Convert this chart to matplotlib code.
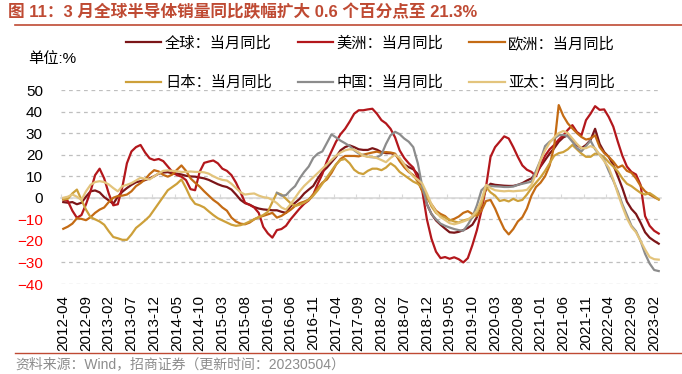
import numpy as np
import pandas as pd
import matplotlib
matplotlib.use("Agg")
import matplotlib.pyplot as plt
from matplotlib.lines import Line2D

plt.rcParams['font.family'] = ['Liberation Sans', 'Noto Sans CJK SC', 'DejaVu Sans']

# 月份：2012-04 至 2023-03
months = pd.period_range('2012-04', '2023-03', freq='M').strftime('%Y-%m').tolist()

# 当月同比 (%)
glob = [-2.0, -2.3, -2.0, -3.0, -2.3, 0.5, 3.0, 3.4, 2.5, 0.3, -1.2, -2.8,
        0.5, 2.8, 4.5, 6.0, 7.2, 7.7, 8.2, 9.0, 10.0, 11.2, 11.7, 11.9,
        11.3, 11.2, 10.8, 10.2, 9.9, 9.8, 9.4, 9.0, 8.3, 7.3, 6.3, 5.5,
        5.0, 3.8, 1.5, -1.0, -2.5, -3.2, -4.3, -5.0, -5.4, -5.6, -5.8, -5.8,
        -6.5, -7.0, -4.0, -2.3, -0.5, 2.0, 3.8, 5.5, 9.0, 12.0, 14.0, 16.5,
        19.0, 22.0, 23.5, 24.3, 23.5, 22.5, 22.2, 22.2, 23.0, 22.3, 21.2, 20.7,
        20.7, 20.2, 18.0, 15.5, 14.2, 13.2, 11.0, 5.0, -3.0, -7.5, -10.5, -12.5,
        -14.3, -16.0, -16.2, -15.8, -15.0, -14.0, -12.5, -9.0, -2.0, 4.0, 6.5, 6.0,
        5.8, 5.6, 5.5, 5.5, 6.0, 6.8, 8.0, 9.0, 11.5, 14.5, 17.5, 20.5,
        23.0, 26.0, 28.0, 29.0, 27.0, 24.5, 23.0, 24.5, 26.8, 32.0, 25.0, 21.2,
        19.0, 15.3, 10.0, 4.5, -1.8, -5.2, -7.5, -11.5, -16.0, -18.5, -20.0, -21.3]

us = [-0.8, -1.5, -6.0, -9.3, -8.0, -3.0, 3.0, 10.5, 13.5, 9.0, 2.0, -3.5,
      -3.0, 5.0, 16.0, 21.5, 23.5, 24.5, 21.0, 18.3, 17.5, 18.0, 17.0, 14.5,
      12.0, 10.5, 9.8, 8.2, 4.0, 3.5, 12.0, 16.2, 16.8, 17.3, 16.0, 13.5,
      12.5, 10.5, 7.0, 2.5, -2.3, -3.3, -4.5, -7.0, -13.5, -16.5, -18.5, -15.0,
      -14.5, -13.0, -10.0, -7.5, -5.0, -2.8, -1.2, 1.5, 6.5, 11.0, 17.0, 21.5,
      26.0, 29.5, 32.0, 35.3, 39.0, 40.6, 40.6, 41.0, 41.3, 39.0, 36.0, 34.5,
      32.0, 28.0, 22.0, 18.5, 16.0, 14.0, 9.0, 3.0, -10.0, -19.0, -25.0, -28.0,
      -27.5, -28.3, -27.6, -28.5, -30.0, -28.0, -22.0, -15.0, -6.0, 5.0, 19.0, 23.5,
      26.0, 28.5, 27.5, 23.5, 19.0, 15.0, 13.0, 12.0, 10.0, 15.0, 19.5, 22.5,
      24.5, 27.0, 29.0, 31.5, 33.7, 30.5, 29.0, 36.0, 39.0, 42.5, 40.8, 41.0,
      37.5, 33.0, 26.0, 19.5, 14.5, 12.0, 10.8, 6.0, -8.5, -13.0, -15.3, -16.6]

eu = [-14.4, -13.4, -12.0, -9.5, -9.8, -10.4, -9.0, -7.0, -5.5, -4.5, -2.0, 0.0,
      0.8, 1.0, 1.5, 3.0, 5.4, 6.8, 8.5, 11.0, 12.8, 12.2, 10.6, 9.8,
      10.8, 13.0, 15.0, 12.5, 9.0, 7.0, 5.2, 3.0, 1.0, -1.0, -2.5, -4.5,
      -6.0, -9.2, -11.0, -12.0, -12.3, -11.5, -10.0, -9.0, -8.4, -7.7, -7.0, -9.2,
      -8.4, -7.0, -5.6, -3.8, -2.5, -1.8, -0.8, 1.5, 4.5, 7.0, 8.5, 11.5,
      15.3, 18.0, 19.4, 19.4, 19.4, 19.2, 20.0, 20.5, 21.0, 21.4, 20.8, 21.2,
      21.0, 20.5, 17.0, 14.2, 12.0, 10.5, 7.5, 3.0, 0.0, -3.0, -6.0, -7.5,
      -8.5, -10.5, -9.8, -8.7, -7.0, -6.2, -7.5, -8.4, -6.0, -1.5, -1.0, -5.0,
      -10.0, -14.5, -17.0, -14.5, -11.0, -9.0, -5.0, 1.0, 5.0, 7.0, 10.0, 15.0,
      24.0, 43.0, 38.0, 34.5, 32.2, 30.0, 28.2, 27.0, 27.5, 29.0, 23.5, 20.8,
      19.0, 16.8, 14.0, 15.0, 12.5, 11.6, 9.0, 5.5, 3.0, 1.5, 0.3, -0.8]

jp = [-0.8, -0.5, 2.0, 3.8, -1.0, -5.5, -9.0, -10.0, -11.0, -12.5, -15.5, -18.2,
      -18.8, -19.5, -19.5, -17.0, -14.0, -12.3, -10.5, -8.5, -5.5, -2.5, 0.5, 3.5,
      5.0, 6.5, 8.5, 4.5, 0.0, -2.8, -3.5, -4.5, -6.3, -8.0, -9.5, -10.5,
      -11.5, -12.5, -13.0, -12.7, -12.0, -11.0, -10.0, -9.0, -8.0, -6.5, -2.0, 2.3,
      1.5, -0.5, -2.5, -3.8, -3.2, -2.3, -1.0, 1.0, 3.5, 6.5, 9.5, 12.5,
      15.5, 17.5, 18.0, 16.0, 13.0, 11.5, 11.0, 12.5, 13.5, 13.5, 12.8, 14.0,
      16.0, 14.5, 12.0, 10.5, 9.0, 7.5, 6.5, 4.6, 1.0, -4.0, -7.0, -8.5,
      -9.2, -10.2, -11.0, -11.5, -10.5, -10.0, -9.2, -7.0, -3.0, 5.0, 2.5, 1.0,
      -1.5, -1.0, -1.7, -0.5, -1.5, -1.0, 1.5, 4.5, 7.0, 9.5, 12.5, 16.0,
      19.5, 20.7, 21.2, 22.5, 24.5, 22.5, 20.5, 19.0, 19.0, 20.5, 20.2, 18.8,
      16.5, 14.5, 12.2, 9.0, 6.5, 5.4, 3.8, 2.3, 1.5, 2.2, 0.8, -0.8]

cn = [np.nan] * 47 + [
      2.3,
      1.0, 1.2, 3.5, 5.4, 9.0, 12.0, 14.5, 18.5, 20.5, 21.5, 25.5, 29.4,
      28.0, 26.5, 25.3, 24.0, 22.0, 20.5, 19.8, 19.0, 18.8, 18.7, 20.0, 25.0,
      29.0, 30.6, 29.5, 27.5, 26.0, 23.5, 16.0, 5.0, -3.0, -7.5, -10.0, -12.0,
      -13.0, -13.8, -14.5, -15.0, -15.3, -12.5, -9.0, -3.5, 3.5, 5.4, 5.5, 5.3,
      5.2, 5.0, 5.0, 5.2, 6.0, 6.5, 7.0, 7.5, 12.5, 17.5, 24.0, 26.0,
      27.5, 29.0, 29.2, 28.5, 26.0, 23.0, 21.5, 24.0, 26.5, 22.5, 19.9, 17.5,
      12.5, 8.0, 3.0, -3.0, -8.0, -13.0, -15.5, -20.0, -26.0, -30.5, -33.5, -34.0]

ap = [0.0, 0.5, 1.5, 0.5, -1.0, 3.0, 6.0, 7.3, 7.7, 7.3, 6.2, 4.5,
      3.0, 5.4, 6.0, 6.8, 8.0, 9.3, 8.8, 8.5, 10.0, 11.3, 12.5, 12.7,
      12.5, 12.3, 12.0, 12.0, 12.2, 12.0, 12.0, 11.8, 11.2, 10.0, 9.0, 8.3,
      8.0, 6.5, 4.5, 2.5, 1.5, 1.8, 2.0, 1.0, 0.3, 0.0, -1.0, -2.5,
      -4.5, -5.5, -3.0, 0.0, 3.0, 5.5, 7.5, 9.5, 11.5, 13.5, 15.5, 17.5,
      19.5, 21.0, 22.0, 22.5, 22.3, 21.0, 19.5, 19.0, 19.0, 18.4, 17.5, 16.5,
      18.5, 20.0, 18.5, 15.5, 12.5, 9.8, 8.4, 6.5, 2.0, -3.0, -6.5, -9.0,
      -10.3, -11.8, -12.3, -11.7, -11.0, -10.2, -8.5, -6.0, -1.0, 6.0, 4.5, 3.5,
      3.2, 3.0, 3.2, 3.0, 3.2, 3.3, 3.7, 6.0, 11.0, 17.5, 22.0, 25.5,
      28.0, 30.0, 31.0, 30.0, 27.5, 25.0, 23.0, 23.0, 24.0, 23.0, 20.0, 17.0,
      14.0, 8.5, 2.0, -4.0, -9.5, -13.5, -16.0, -20.0, -24.0, -27.5, -28.5, -28.7]

names = ['全球：当月同比', '美洲：当月同比', '欧洲：当月同比',
         '日本：当月同比', '中国：当月同比', '亚太：当月同比']
colors = ['#7B1518', '#B3171C', '#C46B14', '#CDA03A', '#8C8C8C', '#E3C47C']
series = [glob, us, eu, jp, cn, ap]

for s in series:
    assert len(s) == len(months), len(s)

x = np.arange(len(months))

fig = plt.figure(figsize=(6.82, 3.74), dpi=100)
ax = fig.add_axes([61 / 682, 1 - 284 / 374, 600 / 682, 194 / 374])

handles = []
for s, c, n in zip(series, colors, names):
    h, = ax.plot(x, s, color=c, lw=1.6, label=n, zorder=3)
    handles.append(h)

ax.set_xlim(-0.5, len(months) - 0.5)
ax.set_ylim(-40, 50)
ax.set_yticks(np.arange(-40, 51, 10))
ax.grid(axis='y', color='#BFBFBF', linestyle=(0, (3, 3)), lw=0.9)
ax.set_axisbelow(True)

for side in ['top', 'left', 'right']:
    ax.spines[side].set_visible(False)
ax.spines['bottom'].set_position(('data', 0))
ax.spines['bottom'].set_color('#D9D9D9')
ax.spines['bottom'].set_linewidth(1.2)
ax.spines['bottom'].set_zorder(1)

# 刻度线在 0 轴上，标签在底部
ax.set_xticks(np.arange(-0.5, len(months), 5))
ax.tick_params(axis='x', direction='in', length=3, color='#D9D9D9', labelbottom=False)
ax.tick_params(axis='y', length=0, pad=13, labelsize=11)
for lab, v in zip(ax.get_yticklabels(), ax.get_yticks()):
    lab.set_color('#FF0000' if v < 0 else 'black')

sec = ax.secondary_xaxis('bottom')
sec.set_xticks(x[::5], labels=months[::5])
sec.tick_params(length=0, pad=8, labelsize=11, labelrotation=90)
sec.spines['bottom'].set_visible(False)

# 图例按行排列：列优先填充，所以重排顺序
order = [0, 3, 1, 4, 2, 5]
fig.legend(handles=[handles[k] for k in order], ncol=3, loc='upper left',
           bbox_to_anchor=(126 / 682, 1 - 36 / 374), frameon=False,
           fontsize=11, handlelength=2.3, handletextpad=0.25,
           columnspacing=1.7, labelspacing=1.62, borderpad=0, borderaxespad=0)

fig.text(28 / 682, 1 - 59 / 374, '单位:%', fontsize=11, va='center')

title_color = '#BF4A33'
fig.text(8 / 682, 1 - 12 / 374,
         '图 11：3 月全球半导体销量同比跌幅扩大 0.6 个百分点至 21.3%',
         fontsize=12, fontweight='bold', color=title_color, va='center')
fig.add_artist(Line2D([15 / 682, 1], [1 - 25 / 374] * 2, color=title_color, lw=1.2))
fig.add_artist(Line2D([15 / 682, 1], [1 - 353 / 374] * 2, color=title_color, lw=1.0))
fig.text(15 / 682, 1 - 364 / 374, '资料来源：Wind，招商证券（更新时间：20230504）',
         fontsize=10, color='#8C8C8C', va='center')

fig.savefig('out.png', dpi=100)
